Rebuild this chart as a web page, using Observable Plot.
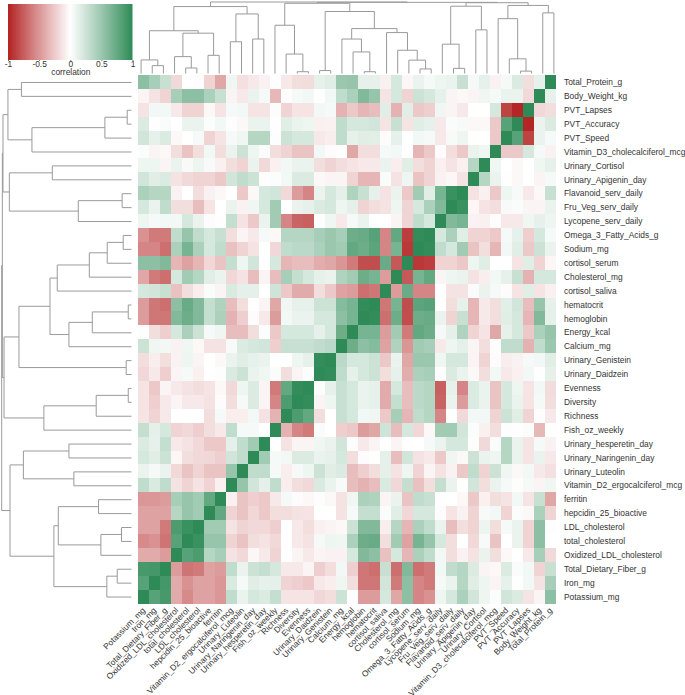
<!DOCTYPE html>
<html>
<head>
<meta charset="utf-8">
<script src="https://cdn.jsdelivr.net/npm/d3@7"></script>
<script src="https://cdn.jsdelivr.net/npm/@observablehq/plot@0.6"></script>
<style>
html,body{margin:0;padding:0;background:#fff}
#chart{position:relative;width:685px;height:695px;overflow:hidden}
#chart svg{position:absolute;display:block;background:transparent}
</style>
</head>
<body>
<div id="chart"></div>
<script>
const rowLabels = ["Total_Protein_g","Body_Weight_kg","PVT_Lapses","PVT_Accuracy","PVT_Speed","Vitamin_D3_cholecalciferol_mcg","Urinary_Cortisol","Urinary_Apigenin_day","Flavanoid_serv_daily","Fru_Veg_serv_daily","Lycopene_serv_daily","Omega_3_Fatty_Acids_g","Sodium_mg","cortisol_serum","Cholesterol_mg","cortisol_saliva","hematocrit","hemoglobin","Energy_kcal","Calcium_mg","Urinary_Genistein","Urinary_Daidzein","Evenness","Diversity","Richness","Fish_oz_weekly","Urinary_hesperetin_day","Urinary_Naringenin_day","Urinary_Luteolin","Vitamin_D2_ergocalciferol_mcg","ferritin","hepcidin_25_bioactive","LDL_cholesterol","total_cholesterol","Oxidized_LDL_cholesterol","Total_Dietary_Fiber_g","Iron_mg","Potassium_mg"];

// Correlations; each row runs from the left column to the diagonal.
const r00 = [.55,.42,.27,-.17,0,-.01,-.2,-.4,.07,-.14,-.1,-.06,.01,-.1,-.15,-.16,.12,.15,.48,.5,.12,.12,-.07,.2,-.04,.1,.05,.08,.1,.27,.05,.12,-.06,.05,.17,-.15,.12,1];
const r01 = [-.05,-.13,-.2,.42,.55,.55,.4,.27,-.05,-.1,.1,.05,-.32,-.01,.05,.06,.01,.06,.3,.4,.6,.5,-.12,.2,-.2,.25,.2,.12,-.05,-.03,-.05,.07,.05,.1,.1,-.17,1];
const r02 = [-.12,.06,.06,-.1,-.2,-.2,-.03,-.12,.05,.06,-.12,-.12,.02,-.2,-.12,-.12,.06,.05,-.35,-.25,-.33,-.3,.15,-.35,.15,-.25,-.22,.07,-.05,-.1,0,0,.2,-.85,-.98,1];
const r03 = [.17,.01,.03,0,.1,.1,.02,.06,-.01,-.03,.1,.1,.01,.15,.1,.08,-.07,-.06,.3,.2,.2,.22,-.12,.27,-.12,.15,.12,-.1,.03,.04,-.03,-.03,-.25,.8,1];
const r04 = [.22,.12,.17,-.03,0,.05,-.2,-.12,.05,.07,.35,.35,-.01,.25,.2,.2,-.1,-.08,.3,.12,.15,.14,-.02,.12,0,.06,.05,-.1,.04,.08,.01,0,-.25,1];
const r05 = [.02,-.05,-.03,-.15,-.27,-.15,.06,-.15,.1,.25,.08,.03,-.15,-.2,-.27,-.27,.06,-.02,-.01,-.4,-.15,-.15,.05,.06,0,-.33,-.25,-.02,-.15,-.25,.1,.07,1];
const r06 = [.08,.08,-.05,.1,.04,.09,.04,-.07,-.15,-.2,.1,-.17,-.07,.06,.1,.1,-.15,-.2,-.15,-.12,-.1,-.1,.1,-.08,.15,-.15,-.2,-.07,-.12,-.07,.35,1];
const r07 = [.22,.15,.17,-.13,-.17,-.2,-.2,-.25,.22,.3,.25,-.01,.02,.06,.17,.17,-.03,-.05,-.05,-.2,-.33,-.33,.03,-.13,.08,-.27,-.2,-.06,-.04,-.13,1];
const r08 = [.4,.35,.35,-.06,0,-.15,-.06,-.03,0,-.25,-.03,.2,.22,-.17,-.45,-.55,.1,.2,.13,.38,.27,.12,-.13,.1,-.25,.45,.15,.65,.95,1];
const r09 = [.2,.1,.3,-.15,-.15,-.3,-.12,0,.1,-.06,.07,.2,.45,0,.1,.12,.17,.2,.08,.13,-.2,-.15,-.13,.08,-.2,.2,.4,.6,1];
const r10 = [.08,.05,.06,.06,.2,.1,-.02,.01,.28,-.13,-.25,.1,.45,-.55,-.7,-.72,-.01,.07,-.1,.05,.1,0,0,-.05,-.2,.3,.2,1];
const r11 = [-.5,-.6,-.6,.3,.5,.3,.2,.27,-.15,-.05,-.1,.05,-.03,.35,.35,.35,.42,.48,.42,.7,.72,.8,-.55,.75,-.88,.98,1];
const r12 = [-.55,-.55,-.65,.4,.65,.4,.2,.3,-.28,-.2,-.13,0,-.18,.3,.33,.33,.4,.48,.45,.75,.7,.78,-.55,.65,-.9,1];
const r13 = [.55,.55,.6,-.33,-.42,-.33,-.18,-.27,.28,.08,.22,.01,.2,-.33,-.3,-.3,-.37,-.4,-.48,-.6,-.8,-.8,.72,-.75,1];
const r14 = [-.4,-.6,-.65,.2,.45,.35,.15,.1,-.18,-.13,-.3,-.05,-.3,.42,.28,.2,.12,.1,.38,.45,.7,.65,-.45,1];
const r15 = [.2,.22,.27,-.28,-.15,-.08,.03,-.05,.18,.13,.13,0,.23,-.25,-.38,-.38,-.15,-.25,-.42,-.45,-.65,-.62,1];
const r16 = [-.45,-.62,-.65,.55,.72,.6,.28,.38,-.3,-.15,0,-.05,-.4,.07,.12,.12,.25,.25,.58,.65,.98,1];
const r17 = [-.45,-.62,-.62,.6,.7,.6,.28,.4,-.35,-.22,-.02,-.1,-.45,.06,.1,.1,.2,.2,.55,.65,1];
const r18 = [-.01,-.15,-.22,.2,.4,.25,.05,.07,-.3,-.3,-.15,.02,-.25,.2,.2,.2,.12,.2,.7,1];
const r19 = [.25,.07,.06,-.06,.07,-.03,-.13,-.13,.04,.17,.2,.22,-.22,.27,.27,.27,.3,.33,1];
const r20 = [-.15,-.08,-.15,-.06,.08,-.05,0,-.03,.1,.15,.12,.1,0,0,.08,.12,.98,1];
const r21 = [-.18,-.1,-.22,-.05,.05,-.07,0,-.01,.18,.25,.1,.07,.03,-.15,-.05,.02,1];
const r22 = [-.12,-.25,-.05,-.1,-.13,-.15,-.12,-.03,-.17,.08,.17,-.05,-.6,.75,.98,1];
const r23 = [-.12,-.22,-.1,-.05,-.1,-.1,-.13,-.02,-.15,.05,.17,-.05,-.55,.85,1];
const r24 = [-.12,-.2,-.1,0,0,0,-.15,.05,-.08,-.08,.06,-.13,-.35,1];
const r25 = [.28,.13,.2,-.2,-.17,-.22,-.15,-.1,.3,.05,.05,0,1];
const r26 = [.17,.12,.28,-.1,-.13,-.17,-.25,-.25,.13,.3,.45,1];
const r27 = [.2,.15,.25,-.04,-.15,-.17,-.18,-.22,.22,.3,1];
const r28 = [.1,.05,.1,-.17,-.27,-.2,-.27,-.27,.5,1];
const r29 = [.3,.18,.3,-.13,-.2,-.13,-.2,-.07,1];
const r30 = [-.47,-.47,-.45,.42,.5,.45,.75,1];
const r31 = [-.42,-.42,-.42,.35,.5,.45,1];
const r32 = [-.42,-.42,-.6,.85,.95,1];
const r33 = [-.53,-.5,-.63,.8,1];
const r34 = [-.38,-.38,-.45,1];
const r35 = [.88,.9,1];
const r36 = [.8,1];
const r37 = [1];

// Cluster tree: leaves are row numbers 0-37, node k is 38 + its place in these lists.
const mergeA = [0,2,39,40,38,6,8,44,43,42,11,48,49,50,16,52,53,51,20,55,22,58,59,57,47,26,28,63,30,32,67,66,35,70,69,65,62];
const mergeB = [1,3,4,5,41,7,9,10,45,46,12,13,14,15,17,18,19,54,21,56,23,24,25,60,61,27,29,64,31,33,34,68,36,37,71,72,73];
const mergeH = [.848,.033,.205,.767,.952,.61,.072,.41,.941,.99,.064,.187,.325,.572,.025,.302,.482,.628,.041,.867,.025,.272,.675,.982,.995,.482,.444,.833,.254,.077,.236,.564,.11,.19,.598,.936,1];

const legendTicks = [-1,-0.5,0,0.5,1];
const colorStops = ["#b22222","#ffffff","#2e8b57"];
const font = "'Liberation Sans', Arial, sans-serif";
const ink = "#333";
const lineGrey = "#9a9a9a";

const triangle = [r00,r01,r02,r03,r04,r05,r06,r07,r08,r09,r10,r11,r12,r13,r14,r15,r16,r17,r18,r19,r20,r21,r22,r23,r24,r25,r26,r27,r28,r29,r30,r31,r32,r33,r34,r35,r36,r37];
const n = rowLabels.length;
const colLabels = rowLabels.slice().reverse();
const cells = [];
for (let i = 0; i < n; i++) for (let j = 0; j < n; j++) {
  const v = j <= n - 1 - i ? triangle[i][j] : triangle[n - 1 - j][n - 1 - i];
  cells.push({row: rowLabels[i], col: colLabels[j], value: v});
}
const colorScale = {type: "linear", domain: [-1, 0, 1], range: colorStops, clamp: true};

// node positions and the three segments each merge draws
const pos = d3.range(n).map(i => i + 0.5), hgt = d3.range(n).map(() => 0);
const links = [];
mergeA.forEach((a, k) => {
  const b = mergeB[k], h = mergeH[k];
  links.push({p1: pos[a], h1: hgt[a], p2: pos[a], h2: h});
  links.push({p1: pos[b], h1: hgt[b], p2: pos[b], h2: h});
  links.push({p1: pos[a], h1: h, p2: pos[b], h2: h});
  pos.push((pos[a] + pos[b]) / 2);
  hgt.push(h);
});

const heat = Plot.plot({
  width: 685, height: 695,
  marginLeft: 135, marginRight: 126, marginTop: 75, marginBottom: 91.5,
  style: {fontFamily: font, fontSize: "8.4px", color: ink, background: "transparent"},
  x: {domain: colLabels, padding: 0, axis: null},
  y: {domain: rowLabels, padding: 0, axis: null},
  color: colorScale,
  marks: [
    Plot.cell(cells, {x: "col", y: "row", fill: "value", shapeRendering: "crispEdges"}),
    Plot.axisX({anchor: "bottom", tickSize: 0, tickPadding: 5, tickRotate: -45, label: null, fontSize: 8.4, fill: ink}),
    Plot.axisY({anchor: "right", tickSize: 0, tickPadding: 4.5, label: null, fontSize: 8.4, fill: ink})
  ]
});
heat.style.left = "0"; heat.style.top = "0";

const topTree = Plot.plot({
  width: 424, height: 75, margin: 0,
  style: {background: "transparent"},
  x: {domain: [0, n], range: [0, 424], axis: null},
  y: {domain: [0, 1], range: [73, 1.5], axis: null},
  marks: [Plot.link(links, {x1: d => n - d.p1, y1: "h1", x2: d => n - d.p2, y2: "h2", stroke: lineGrey, strokeWidth: 1})]
});
topTree.style.left = "135px"; topTree.style.top = "0";

const leftTree = Plot.plot({
  width: 135, height: 529, margin: 0,
  style: {background: "transparent"},
  x: {domain: [1, 0], range: [1.2, 131], axis: null},
  y: {domain: [0, n], range: [0, 528.5], axis: null},
  marks: [Plot.link(links, {x1: "h1", y1: "p1", x2: "h2", y2: "p2", stroke: lineGrey, strokeWidth: 1})]
});
leftTree.style.left = "0"; leftTree.style.top = "75px";

const step = 2 / 124;
const legend = Plot.plot({
  width: 135, height: 75,
  marginLeft: 8, marginRight: 2.5, marginTop: 4, marginBottom: 15,
  style: {fontFamily: font, fontSize: "8.4px", color: ink, background: "transparent", overflow: "visible"},
  x: {domain: [-1, 1], axis: null},
  y: {domain: [0, 1], axis: null},
  color: colorScale,
  marks: [
    Plot.rect(d3.range(-1, 1, step), {x1: d => d, x2: d => Math.min(1, d + step * 1.5), y1: 0, y2: 1, fill: d => d + step / 2}),
    Plot.axisX({ticks: legendTicks, tickFormat: d => String(d), tickSize: 1, tickPadding: 0, stroke: "#777", fill: ink, label: "correlation", labelAnchor: "center", labelArrow: "none", labelOffset: 14.5, fontSize: 8.4})
  ]
});
legend.style.left = "0"; legend.style.top = "0";

document.getElementById("chart").append(heat, topTree, leftTree, legend);
</script>
</body>
</html>
